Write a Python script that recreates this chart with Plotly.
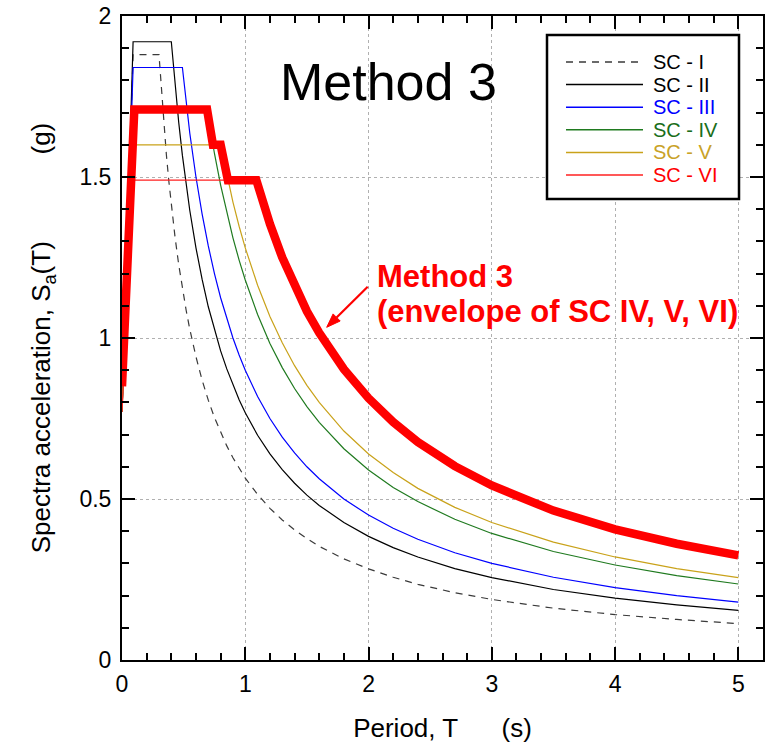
import plotly.graph_objects as go

# ---- data (period T in s, spectral acceleration Sa in g) ----
SC_I_T = [0, 0.09, 0.30, 0.32, 0.34, 0.36, 0.38, 0.40, 0.43, 0.46, 0.49, 0.52, 0.55, 0.60, 0.65, 0.70, 0.75, 0.80,
          0.85, 0.90, 0.95, 1.0, 1.1, 1.2, 1.3, 1.4, 1.5, 1.6, 1.8, 2.0, 2.2, 2.4, 2.7, 3.0, 3.5, 4.0, 4.5, 5.0]
SC_I_SA = [0.77, 1.88, 1.88, 1.766, 1.662, 1.569, 1.487, 1.413, 1.314, 1.228, 1.153, 1.087, 1.027, 0.942, 0.869,
           0.807, 0.753, 0.706, 0.665, 0.628, 0.595, 0.565, 0.514, 0.471, 0.435, 0.404, 0.377, 0.353, 0.314, 0.283,
           0.257, 0.235, 0.209, 0.188, 0.161, 0.141, 0.126, 0.113]

SC_II_T = [0, 0.09, 0.40, 0.43, 0.46, 0.49, 0.52, 0.55, 0.60, 0.65, 0.70, 0.75, 0.80, 0.85, 0.90, 0.95, 1.0, 1.1,
           1.2, 1.3, 1.4, 1.5, 1.6, 1.8, 2.0, 2.2, 2.4, 2.7, 3.0, 3.5, 4.0, 4.5, 5.0]
SC_II_SA = [0.77, 1.92, 1.92, 1.786, 1.670, 1.567, 1.477, 1.396, 1.280, 1.182, 1.097, 1.024, 0.960, 0.904, 0.853,
            0.808, 0.768, 0.698, 0.640, 0.591, 0.549, 0.512, 0.480, 0.427, 0.384, 0.349, 0.320, 0.284, 0.256, 0.219,
            0.192, 0.171, 0.154]

SC_III_T = [0, 0.09, 0.49, 0.52, 0.55, 0.60, 0.65, 0.70, 0.75, 0.80, 0.85, 0.90, 0.95, 1.0, 1.1, 1.2, 1.3, 1.4,
            1.5, 1.6, 1.8, 2.0, 2.2, 2.4, 2.7, 3.0, 3.5, 4.0, 4.5, 5.0]
SC_III_SA = [0.77, 1.84, 1.84, 1.731, 1.636, 1.500, 1.385, 1.286, 1.200, 1.125, 1.059, 1.000, 0.947, 0.900, 0.818,
             0.750, 0.692, 0.643, 0.600, 0.563, 0.500, 0.450, 0.409, 0.375, 0.333, 0.300, 0.257, 0.225, 0.200, 0.180]

SC_IV_T = [0, 0.09, 0.69, 0.72, 0.75, 0.80, 0.85, 0.90, 0.95, 1.0, 1.1, 1.2, 1.3, 1.4, 1.5, 1.6, 1.8, 2.0, 2.2,
           2.4, 2.7, 3.0, 3.5, 4.0, 4.5, 5.0]
SC_IV_SA = [0.77, 1.71, 1.71, 1.639, 1.573, 1.475, 1.388, 1.311, 1.242, 1.180, 1.073, 0.983, 0.908, 0.843, 0.787,
            0.738, 0.656, 0.590, 0.536, 0.492, 0.437, 0.393, 0.337, 0.295, 0.262, 0.236]

SC_V_T = [0, 0.09, 0.80, 0.85, 0.90, 0.95, 1.0, 1.1, 1.2, 1.3, 1.4, 1.5, 1.6, 1.8, 2.0, 2.2, 2.4, 2.7, 3.0, 3.5,
          4.0, 4.5, 5.0]
SC_V_SA = [0.77, 1.60, 1.60, 1.506, 1.422, 1.347, 1.280, 1.164, 1.067, 0.985, 0.914, 0.853, 0.800, 0.711, 0.640,
           0.582, 0.533, 0.474, 0.427, 0.366, 0.320, 0.284, 0.256]

SC_VI_T = [0, 0.09, 1.09, 1.15, 1.2, 1.3, 1.4, 1.5, 1.6, 1.8, 2.0, 2.2, 2.4, 2.7, 3.0, 3.5, 4.0, 4.5, 5.0]
SC_VI_SA = [0.77, 1.49, 1.49, 1.413, 1.354, 1.250, 1.161, 1.083, 1.016, 0.903, 0.813, 0.739, 0.677, 0.602, 0.542,
            0.464, 0.406, 0.361, 0.325]

# Method 3 = envelope of SC IV, V, VI
ENV_T = [0, 0.10, 0.69, 0.72, 0.7375, 0.80, 0.82, 0.84, 0.859, 1.09, 1.15, 1.2, 1.3, 1.4, 1.5, 1.6, 1.8, 2.0, 2.2,
         2.4, 2.7, 3.0, 3.5, 4.0, 4.5, 5.0]
ENV_SA = [0.85, 1.71, 1.71, 1.639, 1.60, 1.60, 1.561, 1.524, 1.49, 1.49, 1.413, 1.354, 1.250, 1.161, 1.083, 1.016,
          0.903, 0.813, 0.739, 0.677, 0.602, 0.542, 0.464, 0.406, 0.361, 0.325]

LABELS = ["SC - I", "SC - II", "SC - III", "SC - IV", "SC - V", "SC - VI"]
X_TICKS = [0, 1, 2, 3, 4, 5]
Y_TICKS = [0, 0.5, 1, 1.5, 2]
Y_TICKTEXT = ["0", "0.5", "1", "1.5", "2"]

# ---- styles ----
FONT = "Liberation Sans, Arial, sans-serif"
LINE_COLORS = ["#3a3a3a", "#000000", "#0000ff", "#1f7a1f", "#c9a21a", "#ff2020"]
TEXT_COLORS = ["#000000", "#000000", "#0000ff", "#1a6e1a", "#c9a227", "#ff0000"]
DASHES = ["7px,6px", "solid", "solid", "solid", "solid", "solid"]

series = [(SC_I_T, SC_I_SA), (SC_II_T, SC_II_SA), (SC_III_T, SC_III_SA),
          (SC_IV_T, SC_IV_SA), (SC_V_T, SC_V_SA), (SC_VI_T, SC_VI_SA)]

fig = go.Figure()
for (t, sa), name, col, dash in zip(series, LABELS, LINE_COLORS, DASHES):
    fig.add_trace(go.Scatter(x=t, y=sa, mode="lines", name=name, showlegend=False,
                             line=dict(color=col, width=1.2, dash=dash)))

fig.add_trace(go.Scatter(x=ENV_T, y=ENV_SA, mode="lines", name="Method 3", showlegend=False,
                         line=dict(color="#ff0000", width=8.5)))

# page-pixel -> data helpers for decorations (plot area on the page: x 122..763, y 16..660)
def dx(px):
    return (px - 122) / 641 * 5.2

def dy(py):
    return (660 - py) / 644 * 2.0

shapes = [dict(type="rect", xref="x", yref="y", x0=dx(547), x1=dx(739), y0=dy(199), y1=dy(35),
               line=dict(color="black", width=2.5), fillcolor="white", layer="above")]
annotations = []
row_y = [62, 84.6, 107.2, 129.8, 152.4, 175]
for i, (name, lc, tc, dash) in enumerate(zip(LABELS, LINE_COLORS, TEXT_COLORS, DASHES)):
    shapes.append(dict(type="line", xref="x", yref="y", x0=dx(566), x1=dx(643), y0=dy(row_y[i]), y1=dy(row_y[i]),
                       line=dict(color=lc, width=1.5, dash=dash), layer="above"))
    annotations.append(dict(x=dx(651), y=dy(row_y[i]), xref="x", yref="y", text=name, showarrow=False,
                            xanchor="left", yanchor="middle", font=dict(family=FONT, size=20, color=tc)))

# red arrow pointing at the envelope (tail -> head), drawn as shapes
tail = (367.7, 286.7)
head = (326.7, 327.3)
base = (336.6, 317.5)
wing1 = (340.2, 321.0)
wing2 = (333.1, 313.9)
shapes.append(dict(type="line", xref="x", yref="y", x0=dx(tail[0]), y0=dy(tail[1]), x1=dx(base[0]), y1=dy(base[1]),
                   line=dict(color="#ff0000", width=2.2), layer="above"))
shapes.append(dict(type="path", xref="x", yref="y",
                   path=f"M {dx(head[0])},{dy(head[1])} L {dx(wing1[0])},{dy(wing1[1])} "
                        f"L {dx(wing2[0])},{dy(wing2[1])} Z",
                   line=dict(color="#ff0000", width=1), fillcolor="#ff0000", layer="above"))

annotations += [
    dict(x=dx(388.5), y=dy(82), xref="x", yref="y", text="Method 3", showarrow=False,
         xanchor="center", yanchor="middle", font=dict(family=FONT, size=52, color="black")),
    dict(x=dx(375), y=dy(276.6), xref="x", yref="y", text="<b>Method 3</b>", showarrow=False,
         xanchor="left", yanchor="middle", font=dict(family=FONT, size=31, color="#ff0000")),
    dict(x=dx(375), y=dy(311), xref="x", yref="y", text="<b>(envelope of SC IV, V, VI)</b>", showarrow=False,
         xanchor="left", yanchor="middle", font=dict(family=FONT, size=31, color="#ff0000")),
]

axis_common = dict(showline=True, linecolor="black", linewidth=2, mirror="ticks", ticks="inside",
                   ticklen=13, tickwidth=1.5, tickcolor="black", showgrid=True, gridcolor="#b0b0b0",
                   gridwidth=1, griddash="dot", zeroline=False, ticklabeloverflow="allow",
                   tickfont=dict(family=FONT, size=23, color="black"))

fig.update_layout(
    width=766, height=751, template="none",
    paper_bgcolor="white", plot_bgcolor="white",
    margin=dict(l=122, r=3, t=16, b=91, autoexpand=False),
    showlegend=False,
    shapes=shapes, annotations=annotations,
    xaxis=dict(range=[0, 5.2], tickvals=X_TICKS, ticktext=[str(v) for v in X_TICKS],
               minor=dict(dtick=0.2, tick0=0, ticks="inside", ticklen=7, tickwidth=1.5, tickcolor="black",
                          showgrid=False),
               ticklabelstandoff=2,
               title=dict(text="Period, T" + "\u00a0" * 5 + " (s)", standoff=23,
                          font=dict(family=FONT, size=26, color="black")),
               **axis_common),
    yaxis=dict(range=[0, 2], tickvals=Y_TICKS, ticktext=Y_TICKTEXT,
               minor=dict(dtick=0.1, tick0=0, ticks="inside", ticklen=7, tickwidth=1.5, tickcolor="black",
                          showgrid=False),
               ticklabelstandoff=4,
               title=dict(text="\u00a0Spectra acceleration, S<sub>a</sub>(T)" + "\u00a0" * 12 + "(g)", standoff=21,
                          font=dict(family=FONT, size=26, color="black")),
               **axis_common),
)

# remove the browser's default body margin so the figure sits at the page origin
fig.write_html("out.html", config={"displayModeBar": False},
               post_script="document.body.style.margin='0px';")
